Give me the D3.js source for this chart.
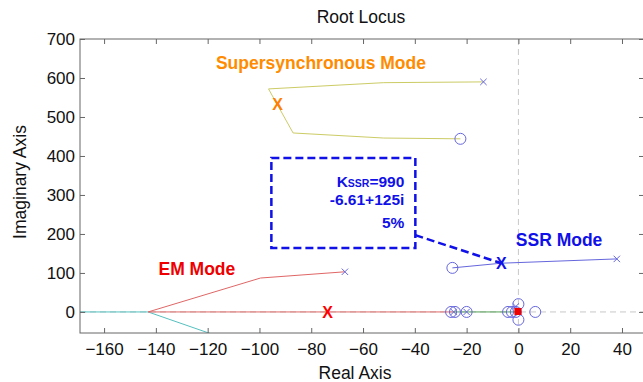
<!DOCTYPE html>
<html>
<head>
<meta charset="utf-8">
<script src="https://cdn.jsdelivr.net/npm/d3@7"></script>
<style>
body{margin:0;background:#fff}
text{font-family:"Liberation Sans",Arial,sans-serif}
</style>
</head>
<body>
<div id="graph"></div>
<script>
"use strict"
// axis ticks
var xTicks=[-160,-140,-120,-100,-80,-60,-40,-20,0,20,40]
var yTicks=[0,100,200,300,400,500,600,700]

// locus branches (real, imag)
var superRe=[-13.5,-52,-96.5,-87,-52,-22.4]
var superIm=[590,588,572,459,446,444]
var ssrRe=[-25.5,-6.6,38]
var ssrIm=[113,125,136]
var emRe=[-67,-99.6,-143,-143,-25]
var emIm=[103,87,0,0,0]
var cyanRe=[-172,-143,-117]
var cyanIm=[0,0,-60]
var greenRe=[-25,-1]
var greenIm=[0,0]

// open loop poles / zeros
var poleRe=[-13.5,38,-67,-25,-20,0,-1]
var poleIm=[590,136,103,0,0,0,14]
var zeroRe=[-22.4,-25.5,-26,-24.5,-20,-4,-2.5,-1,0,0,6.5]
var zeroIm=[444,113,0,0,0,0,0,0,20,-20,0]

// highlighted operating points
var markRe=[-93,-6.6,-73.7]
var markIm=[533,125,0]
var markCol=['#ff7f00','#1010e8','#ff0000']

var W=643,H=382
var L=80,T=39,R=644,B=333

function pts(re,im){
  var a=[]
  for(var i=0;i<re.length;i++) a.push([re[i],im[i]])
  return a
}

function draw(){
  var svg=d3.select('#graph').append('svg').attr('width',W).attr('height',H)
  var x=d3.scaleLinear().domain([-169.3,48.5]).range([L,R])
  var y=d3.scaleLinear().domain([-54,700]).range([B,T])

  svg.append('clipPath').attr('id','clip').append('rect').attr('x',L).attr('y',T).attr('width',R-L).attr('height',B-T)
  var plot=svg.append('g').attr('clip-path','url(#clip)')

  // grid lines through origin
  plot.append('line').attr('x1',x(0)).attr('x2',x(0)).attr('y1',T).attr('y2',B).attr('stroke','#c8c8c8').attr('stroke-dasharray','6,4')
  plot.append('line').attr('x1',L).attr('x2',R).attr('y1',y(0)).attr('y2',y(0)).attr('stroke','#c8c8c8').attr('stroke-dasharray','6,4')

  var line=d3.line().x(function(d){return x(d[0])}).y(function(d){return y(d[1])})
  var branches=[
    {d:pts(superRe,superIm),c:'#cccc66'},
    {d:pts(ssrRe,ssrIm),c:'#6666dd'},
    {d:pts(cyanRe,cyanIm),c:'#55c0c0'},
    {d:pts(emRe,emIm),c:'#e06666'},
    {d:pts(greenRe,greenIm),c:'#55a055'}
  ]
  for(var i=0;i<branches.length;i++)
    plot.append('path').attr('d',line(branches[i].d)).attr('fill','none').attr('stroke',branches[i].c).attr('stroke-width',1)

  // zeros
  var zs=pts(zeroRe,zeroIm)
  for(i=0;i<zs.length;i++)
    plot.append('circle').attr('cx',x(zs[i][0])).attr('cy',y(zs[i][1])).attr('r',5.5).attr('fill','none').attr('stroke','#6666dd').attr('stroke-width',1)
  // poles
  var ps=pts(poleRe,poleIm),s=3.2
  for(i=0;i<ps.length;i++){
    var px=x(ps[i][0]),py=y(ps[i][1])
    plot.append('path').attr('d','M'+(px-s)+' '+(py-s)+' L'+(px+s)+' '+(py+s)+' M'+(px-s)+' '+(py+s)+' L'+(px+s)+' '+(py-s)).attr('stroke','#6666dd').attr('stroke-width',1)
  }
  plot.append('rect').attr('x',x(0)-4).attr('y',y(0)-4).attr('width',7).attr('height',7).attr('fill','#ee0000')

  // annotation box for SSR mode
  var bx0=-95.4,bx1=-39.8,by0=395,by1=164
  svg.append('rect').attr('x',x(bx0)).attr('y',y(by0)).attr('width',x(bx1)-x(bx0)).attr('height',y(by1)-y(by0))
    .attr('fill','none').attr('stroke','#1010e8').attr('stroke-width',2.5).attr('stroke-dasharray','8,4')
  svg.append('line').attr('x1',x(bx1)).attr('y1',y(197)).attr('x2',x(markRe[1])).attr('y2',y(markIm[1]))
    .attr('stroke','#1010e8').attr('stroke-width',2.5).attr('stroke-dasharray','8,4')
  var tx=x(bx1)-11
  var t1=svg.append('text').attr('x',tx).attr('y',y(320)).attr('text-anchor','end').attr('font-size',15.5).attr('font-weight','bold').attr('fill','#1010e8')
  t1.append('tspan').text('K')
  t1.append('tspan').attr('font-size',10.5).text('SSR')
  t1.append('tspan').text('=990')
  svg.append('text').attr('x',tx).attr('y',y(274)).attr('text-anchor','end').attr('font-size',15.5).attr('font-weight','bold').attr('fill','#1010e8').text('-6.61+125i')
  svg.append('text').attr('x',tx).attr('y',y(215)).attr('text-anchor','end').attr('font-size',15.5).attr('font-weight','bold').attr('fill','#1010e8').text('5%')

  // bold markers
  for(i=0;i<markRe.length;i++)
    svg.append('text').attr('x',x(markRe[i])).attr('y',y(markIm[i])).attr('dy','0.36em').attr('text-anchor','middle')
      .attr('font-size',16).attr('font-weight','bold').attr('fill',markCol[i]).text('X')

  // mode labels
  svg.append('text').attr('x',x(-116.8)).attr('y',y(622)).attr('font-size',17.5).attr('font-weight','bold').attr('fill','#ff8c00').text('Supersynchronous Mode')
  svg.append('text').attr('x',x(-139)).attr('y',y(95)).attr('font-size',17.5).attr('font-weight','bold').attr('fill','#ee0000').text('EM Mode')
  svg.append('text').attr('x',x(-1)).attr('y',y(170)).attr('font-size',17.5).attr('font-weight','bold').attr('fill','#1010e8').text('SSR Mode')

  // frame and axes
  svg.append('rect').attr('x',L).attr('y',T).attr('width',R-L).attr('height',B-T).attr('fill','none').attr('stroke','#666').attr('stroke-width',1)
  var gx=svg.append('g').attr('transform','translate(0,'+B+')').call(d3.axisBottom(x).tickValues(xTicks).tickSize(-5).tickPadding(10))
  var gxt=svg.append('g').attr('transform','translate(0,'+T+')').call(d3.axisTop(x).tickValues(xTicks).tickSize(-5).tickFormat(''))
  var gy=svg.append('g').attr('transform','translate('+L+',0)').call(d3.axisLeft(y).tickValues(yTicks).tickSize(-5).tickPadding(5))
  var gyr=svg.append('g').attr('transform','translate('+R+',0)').call(d3.axisRight(y).tickValues(yTicks).tickSize(-5).tickFormat(''))
  ;[gx,gxt,gy,gyr].forEach(function(g){
    g.select('.domain').remove()
    g.selectAll('line').attr('stroke','#666')
    g.selectAll('text').attr('font-size',17).attr('fill','#111').attr('font-family','"Liberation Sans",Arial,sans-serif')
  })

  svg.append('text').attr('x',361).attr('y',23).attr('text-anchor','middle').attr('font-size',17.5).attr('fill','#111').text('Root Locus')
  svg.append('text').attr('x',355).attr('y',379).attr('text-anchor','middle').attr('font-size',17.5).attr('fill','#111').text('Real Axis')
  svg.append('text').attr('transform','translate(26,182)rotate(-90)').attr('text-anchor','middle').attr('font-size',17.5).attr('fill','#111').text('Imaginary Axis')
}

draw()
</script>
</body>
</html>
